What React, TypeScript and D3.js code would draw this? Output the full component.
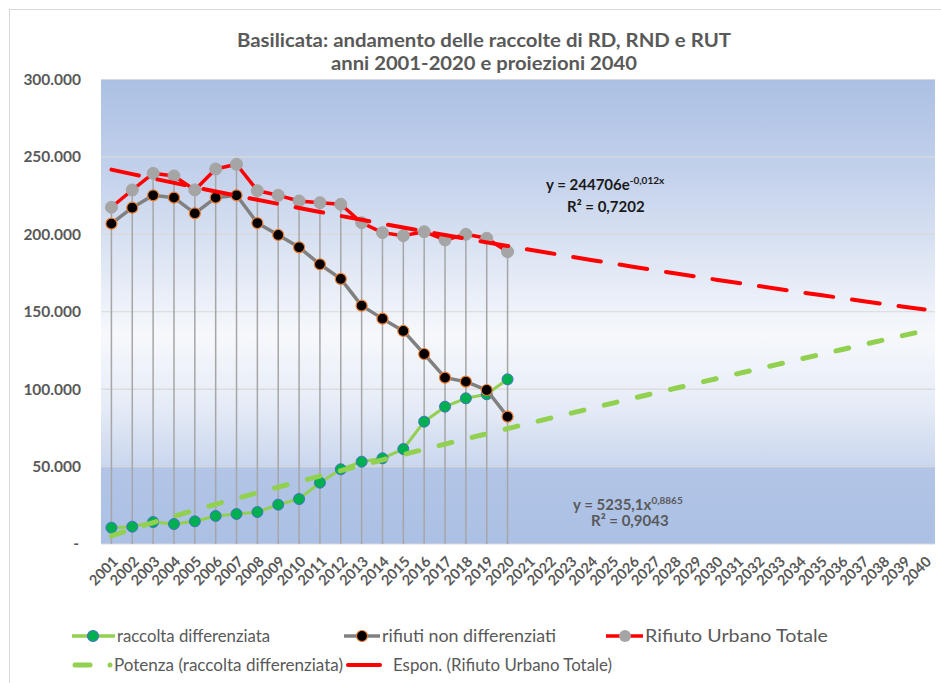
import React from "react";
import * as d3 from "d3";

const years: string[] = d3.range(2001, 2041).map(String);
const dataYears: string[] = d3.range(2001, 2021).map(String);

const raccoltaDifferenziata: number[] = [
  10550, 11200, 14200, 12900, 14650, 18100, 19400, 20650, 25400, 29050,
  39600, 48250, 53150, 55350, 61350, 79000, 88700, 94100, 96700, 106350,
];
const rifiutiNonDifferenziati: number[] = [
  206900, 217200, 225200, 223700, 213600, 223700, 225200, 207300, 199600, 191600,
  180650, 171200, 153950, 145550, 137600, 122700, 107450, 104850, 99450, 82250,
];
const rifiutoUrbanoTotale: number[] = [
  217500, 228650, 239400, 237700, 228700, 242200, 245250, 228200, 225200, 221550,
  220450, 219400, 207500, 201100, 199150, 201700, 196350, 200000, 197450, 188800,
];

// trendline coefficients as shown on the chart
const expA = 244706;
const expB = -0.012;
const powA = 5235.1;
const powB = 0.8865;

const yTicks: number[] = [0, 50000, 100000, 150000, 200000, 250000, 300000];
const yTickLabels: string[] = ["-", "50.000", "100.000", "150.000", "200.000", "250.000", "300.000"];

const W = 941;
const H = 683;
const plot = { left: 101, right: 935, top: 79.5, bottom: 544 };
const FONT = "Lato, 'Open Sans', 'DejaVu Sans', sans-serif";
const TXT = "#595959";

export default function App() {
  const x = d3.scaleBand<string>().domain(years).range([plot.left, plot.right]);
  const cx = (yr: string) => (x(yr) as number) + x.bandwidth() / 2;
  const y = d3.scaleLinear().domain([0, 300000]).range([plot.bottom, plot.top]);

  const line = d3
    .line<number>()
    .x((_, i) => cx(dataYears[i]))
    .y((d) => y(d));

  const trendIdx = d3.range(1, 41);
  const expTrend = trendIdx.map((k) => expA * Math.exp(expB * k));
  const powTrend = trendIdx.map((k) => powA * Math.pow(k, powB));
  const trendLine = d3
    .line<number>()
    .x((_, i) => cx(years[i]))
    .y((d) => y(d))
    .curve(d3.curveMonotoneX);

  const maxVals = dataYears.map((_, i) =>
    Math.max(raccoltaDifferenziata[i], rifiutiNonDifferenziati[i], rifiutoUrbanoTotale[i])
  );

  const r1 = 636;
  const r2 = 665;

  return (
    <svg width={W} height={H} style={{ position: "absolute", left: 0, top: 0, display: "block" }}>
      <defs>
        <linearGradient id="bg" x1="0" y1="0" x2="0" y2="1">
          <stop offset="0%" stopColor="#abc0e4" />
          <stop offset="20%" stopColor="#c3d1eb" />
          <stop offset="55%" stopColor="#f6f8fc" />
          <stop offset="70%" stopColor="#e6ecf7" />
          <stop offset="83%" stopColor="#cbd7ee" />
          <stop offset="83.5%" stopColor="#b2c5e7" />
          <stop offset="100%" stopColor="#abc0e4" />
        </linearGradient>
      </defs>
      <rect x={0} y={0} width={W} height={H} fill="#ffffff" />
      <rect x={9.5} y={9.5} width={W + 10} height={H + 10} fill="none" stroke="#d9d9d9" strokeWidth={1} />

      {/* title */}
      <text x={484} y={47} textAnchor="middle" fontFamily={FONT} fontWeight="bold" fontSize={19} fill={TXT} textLength={494} lengthAdjust="spacingAndGlyphs">
        Basilicata: andamento delle raccolte di RD, RND e RUT
      </text>
      <text x={484} y={70} textAnchor="middle" fontFamily={FONT} fontWeight="bold" fontSize={19} fill={TXT} textLength={306} lengthAdjust="spacingAndGlyphs">
        anni 2001-2020 e proiezioni 2040
      </text>

      {/* plot background */}
      <rect x={plot.left} y={plot.top} width={plot.right - plot.left} height={plot.bottom - plot.top} fill="url(#bg)" />

      {/* gridlines */}
      {yTicks.map((t) => (
        <line key={t} x1={plot.left} x2={plot.right} y1={y(t)} y2={y(t)} stroke="#d9d9d9" strokeWidth={1.2} />
      ))}

      {/* y labels */}
      {yTicks.map((t, i) => (
        <text key={t} x={t === 0 ? 79 : 81} y={y(t)} dy="0.35em" textAnchor="end" fontFamily={FONT} fontWeight="bold" fontSize={15.5} fill={TXT}>
          {yTickLabels[i]}
        </text>
      ))}

      {/* drop lines */}
      {dataYears.map((yr, i) => (
        <line key={yr} x1={cx(yr)} x2={cx(yr)} y1={y(maxVals[i])} y2={plot.bottom} stroke="#a6a6a6" strokeWidth={1.5} />
      ))}

      {/* x labels */}
      {years.map((yr) => (
        <text key={yr} transform={`translate(${cx(yr) + 4},${plot.bottom + 15}) rotate(-45)`} textAnchor="end" dy="0.35em" fontFamily={FONT} fontWeight="bold" fontSize={14.5} fill={TXT}>
          {yr}
        </text>
      ))}

      {/* RD series */}
      <path d={line(raccoltaDifferenziata) || ""} fill="none" stroke="#92d050" strokeWidth={3} strokeLinejoin="round" />
      {raccoltaDifferenziata.map((v, i) => (
        <circle key={"rd" + i} cx={cx(dataYears[i])} cy={y(v)} r={5.5} fill="#00b050" stroke="#4472c4" strokeWidth={1} />
      ))}

      {/* RND series */}
      <path d={line(rifiutiNonDifferenziati) || ""} fill="none" stroke="#808080" strokeWidth={3.5} strokeLinejoin="round" />
      {rifiutiNonDifferenziati.map((v, i) => (
        <circle key={"rnd" + i} cx={cx(dataYears[i])} cy={y(v)} r={5.5} fill="#000000" stroke="#ed7d31" strokeWidth={1.2} />
      ))}

      {/* RUT series */}
      <path d={line(rifiutoUrbanoTotale) || ""} fill="none" stroke="#ff0000" strokeWidth={3.5} strokeLinejoin="round" />
      {rifiutoUrbanoTotale.map((v, i) => (
        <circle key={"rut" + i} cx={cx(dataYears[i])} cy={y(v)} r={6} fill="#a5a5a5" stroke="#a5a5a5" strokeWidth={1} />
      ))}

      {/* trendlines */}
      <path d={trendLine(powTrend) || ""} fill="none" stroke="#92d050" strokeWidth={5} strokeDasharray="13 21" strokeLinecap="round" />
      <path d={trendLine(expTrend) || ""} fill="none" stroke="#ff0000" strokeWidth={4} strokeDasharray="28 19" strokeLinecap="round" />

      {/* equations */}
      <text x={546} y={190} fontFamily={FONT} fontWeight="bold" fontSize={15} fill="#1a1a1a">
        y = 244706e<tspan fontSize={10} dy={-6}>-0,012x</tspan>
      </text>
      <text x={567} y={211.5} fontFamily={FONT} fontWeight="bold" fontSize={15} fill="#1a1a1a">
        R² = 0,7202
      </text>
      <text x={573} y={510} fontFamily={FONT} fontWeight="bold" fontSize={15} fill={TXT}>
        y = 5235,1x<tspan fontSize={10} dy={-6}>0,8865</tspan>
      </text>
      <text x={591} y={526} fontFamily={FONT} fontWeight="bold" fontSize={15} fill={TXT}>
        R² = 0,9043
      </text>

      {/* legend */}
      <g fontFamily={FONT} fontSize={16.5} fill={TXT}>
        <line x1={72} x2={115} y1={r1} y2={r1} stroke="#92d050" strokeWidth={3.5} />
        <circle cx={93} cy={r1} r={5.5} fill="#00b050" stroke="#4472c4" strokeWidth={1.2} />
        <text x={117} y={r1} dy="0.35em" textLength={153} lengthAdjust="spacingAndGlyphs">raccolta differenziata</text>

        <line x1={344} x2={380} y1={r1} y2={r1} stroke="#808080" strokeWidth={3.5} />
        <circle cx={362} cy={r1} r={5.5} fill="#000000" stroke="#ed7d31" strokeWidth={1.2} />
        <text x={382} y={r1} dy="0.35em" textLength={174} lengthAdjust="spacingAndGlyphs">rifiuti non differenziati</text>

        <line x1={606} x2={643} y1={r1} y2={r1} stroke="#ff0000" strokeWidth={3.5} />
        <circle cx={625} cy={r1} r={6} fill="#a5a5a5" />
        <text x={645} y={r1} dy="0.35em" textLength={183} lengthAdjust="spacingAndGlyphs">Rifiuto Urbano Totale</text>

        <line x1={75} x2={90} y1={r2} y2={r2} stroke="#92d050" strokeWidth={5} strokeLinecap="round" />
        <circle cx={110} cy={r2} r={2.5} fill="#92d050" />
        <text x={114} y={r2} dy="0.35em" textLength={229} lengthAdjust="spacingAndGlyphs">Potenza (raccolta differenziata)</text>

        <line x1={348} x2={380} y1={r2} y2={r2} stroke="#ff0000" strokeWidth={4} strokeLinecap="round" />
        <text x={393} y={r2} dy="0.35em" textLength={219} lengthAdjust="spacingAndGlyphs">Espon. (Rifiuto Urbano Totale)</text>
      </g>
    </svg>
  );
}
